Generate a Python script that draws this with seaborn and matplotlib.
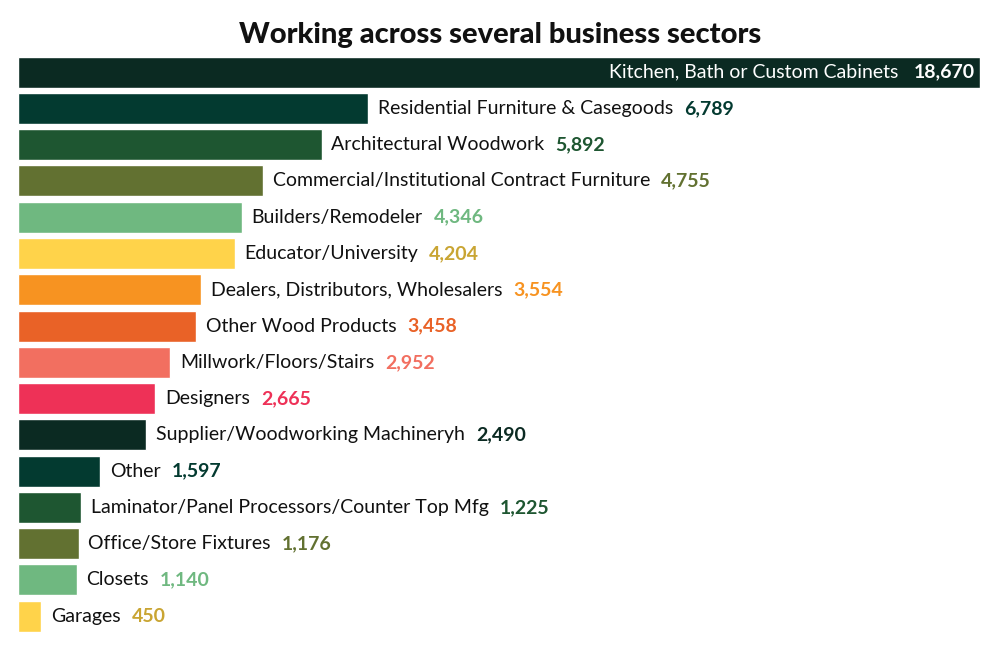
import matplotlib
matplotlib.use("Agg")
import matplotlib.pyplot as plt
import seaborn as sns

sectors = ["Kitchen, Bath or Custom Cabinets", "Residential Furniture & Casegoods",
           "Architectural Woodwork", "Commercial/Institutional Contract Furniture",
           "Builders/Remodeler", "Educator/University",
           "Dealers, Distributors, Wholesalers", "Other Wood Products",
           "Millwork/Floors/Stairs", "Designers", "Supplier/Woodworking Machineryh",
           "Other", "Laminator/Panel Processors/Counter Top Mfg",
           "Office/Store Fixtures", "Closets", "Garages"]
counts = [18670, 6789, 5892, 4755, 4346, 4204, 3554, 3458, 2952, 2665,
          2490, 1597, 1225, 1176, 1140, 450]

bar_colors = ["#0b2a22", "#033a30", "#1e5631", "#627131", "#6fb880", "#ffd34a",
              "#f79321", "#e96227", "#f26f60", "#ee3157",
              "#0b2a22", "#033a30", "#1e5631", "#627131", "#6fb880", "#ffd34a"]
value_colors = ["#ffffff", "#033a30", "#1e5631", "#627131", "#6fb880", "#c9a533",
                "#f79321", "#e96227", "#f26f60", "#ee3157",
                "#0b2a22", "#033a30", "#1e5631", "#627131", "#6fb880", "#c9a533"]

sns.set_style("white")
plt.rcParams['font.family'] = ['Lato', 'DejaVu Sans']

fig = plt.figure(figsize=(10, 6.5), dpi=100)
ax = fig.add_axes([0.018, 0.028, 0.962, 0.885])

sns.barplot(x=counts, y=sectors, hue=sectors, palette=bar_colors, legend=False,
            orient="h", width=0.855, saturation=1, ax=ax)

ax.set_xlim(0, 18670)
ax.set_ylim(15.43, -0.43)
ax.axis("off")

fs = 14
for i, (name, v) in enumerate(zip(sectors, counts)):
    label = f"{v:,}"
    if i == 0:
        vt = ax.annotate(label, xy=(v, i), xytext=(-4, 0), textcoords="offset points",
                         ha="right", va="center", fontsize=fs, fontweight="bold",
                         color=value_colors[i])
        ax.annotate(name, xy=(0, 0.5), xycoords=vt, xytext=(-11, 0),
                    textcoords="offset points", ha="right", va="center",
                    fontsize=fs, color="white")
    else:
        nt = ax.annotate(name, xy=(v, i), xytext=(7, 0), textcoords="offset points",
                         ha="left", va="center", fontsize=fs, color="#111111")
        ax.annotate(label, xy=(1, 0.5), xycoords=nt, xytext=(8, 0),
                    textcoords="offset points", ha="left", va="center",
                    fontsize=fs, fontweight="bold", color=value_colors[i])

fig.text(0.5, 0.946, "Working across several business sectors", ha="center",
         va="center", fontsize=21, fontweight="black", color="#111111")

plt.savefig("out.png", dpi=100)
